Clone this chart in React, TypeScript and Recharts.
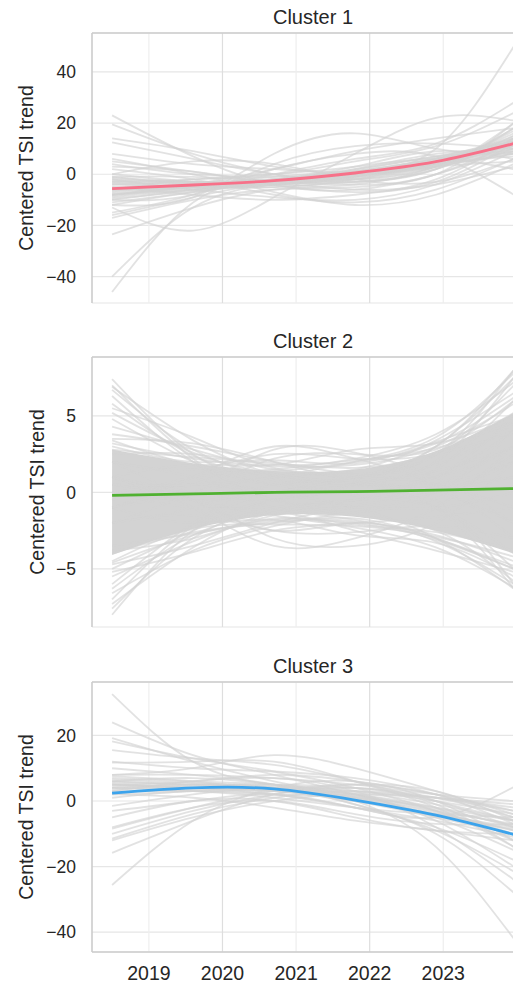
import React from 'react';
import { ComposedChart, Line, Area, XAxis, YAxis, CartesianGrid, ReferenceLine } from 'recharts';

// sample times (decimal years) shared by every curve
const T = [2018.5, 2019.6, 2020.7, 2021.8, 2022.9, 2023.96];
const YEAR_TICKS = [2019, 2020, 2021, 2022, 2023];
const EVEN_YEARS = [2020, 2022];
const ODD_YEARS = [2019, 2021, 2023];
const X_DOMAIN: [number, number] = [2018.227, 2024.233];

const cluster1Mean = [-5.6, -4.2, -2.5, 0.5, 4.9, 12];
const cluster1Lines = [
  [23, 7, -4, -6, 0, 10],
  [19.5, 8, 0, -3, 2, 14],
  [14, 9, 3, 0, 4, 16],
  [12.5, 6, 0, -2, 3, 18],
  [8, 4, 2, 1, 5, 12],
  [5, 1, -3, -3, 2, 20],
  [0, 5, 4, -2, -3, 6],
  [-12, -9, 8, 16, 10, 8],
  [-13, -22, -9, 8, 22, 21],
  [-46, -11, -1, 1, 10, 50],
  [-40, -13, -4, -2, 3, 15],
  [-23.5, -13, -6, -4, 3, 17],
  [-17, -10, -6, -5, 0, 13],
  [-16, -9, -4, -6, -4, 3],
  [0, -3, -4, -1, 4, 10],
  [-1, -4, -5, -2, 5, 14],
  [-2, -3, -2, 1, 6, 11],
  [-3, -4, -3, 0, 4, 9],
  [-4, -3, -2, 2, 7, 13],
  [-5, -4, -3, -1, 3, 8],
  [-6, -5, -3, 1, 6, 12],
  [-7, -5, -4, 0, 5, 15],
  [-8, -6, -3, 2, 8, 10],
  [-9, -6, -4, -1, 4, 7],
  [-10, -6, -2, 1, 5, 11],
  [-11, -7, -3, 0, 6, 13],
  [-12, -7, -4, -2, 3, 9],
  [-6, -2, -1, 0, 3, 5],
  [-4, -5, -5, -3, 2, 18],
  [-3, -2, 0, 3, 6, 2],
  [-8, -5, -2, 3, 9, 6],
  [2, -2, -8, -11, -6, 6],
  [-2, -6, -9, -10, -4, 9],
  [6, 0, -7, -12, -8, 4],
  [-5, -8, -10, -8, -2, 14],
  [-10, -8, 4, 11, 12, 10],
  [-8, -4, 2, 9, 14, 18],
  [4, 0, 0, 5, 11, 24],
  [-6, -5, 0, 6, 12, 28],
  [-15, -8, 2, 8, 7, -8],
  [-1, -1, -3, -4, 0, 20],
  [3, 1, -4, -7, -3, 12],
  [-2.5, -3.5, -3.5, -1.5, 3.5, 11],
  [-5.5, -4.5, -2.5, 0.5, 5.5, 13],
  [-7.5, -5.5, -3.5, -0.5, 4.5, 10],
  [-9.5, -6.5, -3, 0, 5, 12],
  [-3.5, -4.5, -3, 1, 6.5, 14],
  [-6.5, -4, -2, 1.5, 7, 9],
  [-8.5, -5, -2.5, -0.5, 3.5, 8],
  [-1.5, -3, -3.5, -0.5, 4.5, 12.5],
];

const cluster2Mean = [-0.2, -0.1, 0, 0.05, 0.15, 0.25];
const cluster2Low = [-4.1, -2.4, -1.5, -1.6, -2.5, -4.0];
const cluster2High = [2.8, 1.9, 1.4, 1.5, 2.7, 5.2];
const cluster2Lines = [
  [7.4, 2.5, 0.5, 0, 1, 4],
  [7.0, 2.2, -0.5, -0.5, 1.5, 6],
  [6.7, 2.8, 1, 0.5, 0, -2],
  [6.3, 2.0, 0, 0.5, 2, 7.5],
  [5.8, 2.4, 0.8, -0.2, -1, -4],
  [5.2, 2.6, 1.2, 0.6, 0.5, 2],
  [4.8, 2.0, 0.5, 1, 2.5, 8],
  [4.3, 2.8, 1.5, 1, 1, 3],
  [3.8, 3.0, 2.0, 1.2, 0.5, -1],
  [3.5, 3.2, 2.0, 0.8, 0.5, 1],
  [-8.0, -2.5, -0.5, 0, -1, -5],
  [-7.6, -3, -1, -0.5, 0.5, 3],
  [-7.0, -2.2, 0, 0.5, -0.5, -6],
  [-6.3, -2.8, -1.2, -0.5, 0, 2],
  [-6.0, -2.0, 0.5, 0.5, -1, -6.3],
  [-5.5, -3.2, -1.5, -1, -1, 0],
  [-5.0, -2.5, -0.5, 0, 1, 5],
  [-4.7, -3.5, -2.0, -1, 0, 4],
  [-1, 1, 3.0, 2.2, 0.5, -3],
  [0.5, 0.5, 2.8, 2.6, 1, -2],
  [2, 1.5, 2.5, 2.2, 2.5, 4],
  [-2, 0, 2.2, 2.5, 2.8, 6],
  [1, 1.8, 1.8, 2.8, 3.2, 5],
  [1, -1, -3.5, -3.0, -1, 3],
  [0, -0.5, -3.0, -3.5, -2, 2],
  [-2, -1.5, -2.5, -2.6, -2.2, -3],
  [2, -0.5, -2.5, -2.0, -3.0, -5],
  [-1, -2, -1.8, -2.8, -3.3, -5.5],
  [0, -0.5, 0, 1, 3, 8.0],
  [-2, -1, 0.5, 1, 2.5, 7.0],
  [1, 0, -0.5, 0.5, 3, 7.5],
  [-1, 0, 1, 1.5, 3.4, 6.5],
  [0, 0.5, 0, -1, -3, -6.3],
  [2, 1, -0.5, -1.5, -2.5, -5.8],
  [-1, 0, -1, -1.8, -3.2, -6.0],
  [3.2, 2.2, 1.7, 1.8, 3.0, 5.8],
  [2.8, 2.3, 1.9, 1.6, 2.6, 5.2],
  [3.4, 1.8, 1.4, 2.0, 3.2, 6.2],
  [2.5, 2.5, 1.8, 2.1, 2.9, 4.6],
  [3.0, 2.0, 2.1, 1.9, 3.3, 5.0],
  [-4.6, -2.8, -1.8, -1.9, -2.8, -4.5],
  [-4.0, -2.6, -2.0, -1.7, -3.0, -4.8],
  [-3.8, -3.0, -1.7, -2.1, -2.6, -3.8],
  [-4.5, -2.4, -2.1, -2.2, -2.9, -4.2],
  [-3.5, -2.7, -1.9, -2.0, -3.1, -5.0],
  [6.9, 3.4, 1.2, 0.8, 1.4, 3],
  [5.5, 3.6, 1.6, 1.2, 1.8, 4.5],
  [-7.3, -3.6, -1.3, -0.8, 0, 1],
  [-6.6, -3.8, -2.2, -1.3, -0.4, 2.5],
  [-5.2, -3.9, -2.5, -2, -1.6, -1],
  [0.5, 0.5, 1, 2, 3.6, 7.8],
  [-0.5, 1, 1.5, 2.2, 3.8, 7.2],
  [1, -0.5, -1.5, -2.3, -3.6, -6.2],
  [0, -1, -1.2, -2.5, -3.8, -5.2],
];

const cluster3Mean = [2.4, 4.0, 3.7, 0.3, -4.3, -10.2];
const cluster3Lines = [
  [32.6, 12, 5, 2, -6, -20],
  [24, 14, 8, 2, -5, -15],
  [19.2, 12, 6, 1, -4, -8],
  [18.2, 13, 9, 4, -3, -12],
  [15.5, 13, 11, 6, 0, -6],
  [11.7, 12, 12, 6, -2, -14],
  [8, 10, 14, 10, 3, -4],
  [5, 6, 8, 6, 2, -3],
  [6, 5, 4, 2, -2, -8],
  [4, 4, 3, 0, -4, -9],
  [3, 3, 2, 1, -2, -6],
  [7, 6, 5, 3, 1, -2],
  [2, 3, 4, 2, -3, -10],
  [5, 4, 2, -2, -6, -11],
  [1, 3, 2, -2, -5, 4.3],
  [-1.5, 2, 4, 3, 0, -4],
  [-8.4, -2, 3, 5, 2, -5],
  [-10, -3, 2, 4, 0, -8],
  [-11.5, -4, 1, 3, 1, -3],
  [-12, -5, 0, 2, 1, -1],
  [-15.8, -6, 2, 5, 3, -6],
  [-25.6, -6, 4, 6, 0, -12],
  [6, 7, 5, 0, -14, -42],
  [4, 5, 4, -1, -10, -28],
  [3, 6, 7, 3, -8, -24],
  [10, 8, 5, -1, -9, -21.5],
  [-3, 0, 2, -2, -8, -18],
  [2, 1, -2, -6, -9, -12],
  [-5, 0, 0, -5, -9, -10],
  [-8, -2, 0, -4, -7, -7],
  [5, 4, 4, 4, 1, -5],
  [8, 8, 7, 5, 2, 0],
  [12, 10, 9, 7, 2, -7],
  [6, 5, 5, 4, -1, -14],
  [4, 3, 1, -2, -4, -5],
  [4.5, 5, 4.5, 1.5, -3, -7],
  [6.5, 5.5, 4, 1, -3.5, -9],
  [3.5, 4.5, 3.5, 0.5, -4.5, -8.5],
  [5.5, 4, 3, 0, -5, -10],
  [2.5, 3.5, 3, 1.5, -2.5, -7.5],
  [7.5, 6, 3.5, 2.5, -1, -6],
];

const FONT = '"Liberation Sans", Arial, sans-serif';
const TEXT = '#262626';
const SPINE = '#cccccc';

const fmt = (v: number) => (v < 0 ? `\u2212${Math.abs(v)}` : `${v}`);

const gridAt = (years: number[]) => (props: any) => {
  const { xAxis, offset } = props;
  return years.map((y) =>
    xAxis && typeof xAxis.scale === 'function'
      ? xAxis.scale(y)
      : offset.left + ((y - X_DOMAIN[0]) / (X_DOMAIN[1] - X_DOMAIN[0])) * offset.width
  );
};

interface PanelProps {
  title: string;
  top: number;
  mean: number[];
  lines: number[][];
  color: string;
  yDomain: [number, number];
  yTicks: number[];
  labelX: number;
  low?: number[];
  high?: number[];
  showX?: boolean;
}

const Panel: React.FC<PanelProps> = ({ title, top, mean, lines, color, yDomain, yTicks, labelX, low, high, showX }) => {
  const rows = T.map((t, i) => {
    const row: { [key: string]: any } = { t, mean: mean[i] };
    if (low && high) row.band = [low[i], high[i]];
    lines.forEach((l, j) => {
      row[`s${j}`] = l[i];
    });
    return row;
  });
  const height = showX ? 339 : 310;

  return (
    <div style={{ position: 'absolute', left: 0, top, width: 536, height }}>
      <div
        style={{
          position: 'absolute', left: 92, width: 442, top: 7, textAlign: 'center',
          fontFamily: FONT, fontSize: 20, lineHeight: '20px', color: TEXT,
        }}
      >
        {title}
      </div>
      <ComposedChart width={536} height={height} data={rows} margin={{ top: 33, right: 2, left: 0, bottom: showX ? 0 : 7 }}>
        <CartesianGrid vertical={false} stroke="#e6e6e6" strokeWidth={1.2} />
        <CartesianGrid horizontal={false} stroke="#eeeeee" strokeWidth={1.2} verticalCoordinatesGenerator={gridAt(ODD_YEARS)} />
        <CartesianGrid horizontal={false} stroke="#dedede" strokeWidth={1.2} verticalCoordinatesGenerator={gridAt(EVEN_YEARS)} />
        <XAxis
          dataKey="t"
          type="number"
          domain={X_DOMAIN}
          allowDataOverflow
          ticks={YEAR_TICKS}
          height={showX ? 36 : 0}
          tick={showX ? { fontSize: 19.5, fill: TEXT, fontFamily: FONT } : false}
          tickLine={false}
          tickSize={0}
          tickMargin={14}
          axisLine={{ stroke: SPINE, strokeWidth: 1.6 }}
        />
        <YAxis
          type="number"
          domain={yDomain}
          allowDataOverflow
          ticks={yTicks}
          width={92}
          tickFormatter={fmt}
          tick={{ fontSize: 17.5, fill: TEXT, fontFamily: FONT }}
          tickLine={false}
          tickSize={0}
          tickMargin={16}
          axisLine={{ stroke: SPINE, strokeWidth: 1.6 }}
          label={{
            content: (p: any) => {
              const vb = p.viewBox || {};
              const cy = vb.y !== undefined ? vb.y + vb.height / 2 : 168;
              return (
                <text
                  x={labelX}
                  y={cy}
                  transform={`rotate(-90, ${labelX}, ${cy})`}
                  textAnchor="middle"
                  dominantBaseline="central"
                  fontSize={19.5}
                  fontFamily={FONT}
                  fill={TEXT}
                >
                  Centered TSI trend
                </text>
              );
            },
          }}
        />
        {low && high && (
          <Area dataKey="band" type="natural" stroke="none" fill="#d3d3d3" fillOpacity={1} isAnimationActive={false} />
        )}
        {lines.map((_, j) => (
          <Line
            key={j}
            dataKey={`s${j}`}
            type="natural"
            stroke="#d3d3d3"
            strokeOpacity={0.65}
            strokeWidth={1.8}
            dot={false}
            activeDot={false}
            isAnimationActive={false}
          />
        ))}
        <Line dataKey="mean" type="natural" stroke={color} strokeWidth={2.8} dot={false} activeDot={false} isAnimationActive={false} />
        {/* top spine */}
        <ReferenceLine y={yDomain[1]} stroke={SPINE} strokeWidth={1.6} ifOverflow="visible" />
      </ComposedChart>
    </div>
  );
};

export default function App() {
  return (
    <div style={{ position: 'absolute', left: 0, top: 0, width: 513, height: 988, overflow: 'hidden', background: '#ffffff' }}>
      <Panel
        title="Cluster 1"
        top={0}
        mean={cluster1Mean}
        lines={cluster1Lines}
        color="#f77189"
        yDomain={[-50.3, 55.2]}
        yTicks={[-40, -20, 0, 20, 40]}
        labelX={26}
      />
      <Panel
        title="Cluster 2"
        top={324}
        mean={cluster2Mean}
        lines={cluster2Lines}
        low={cluster2Low}
        high={cluster2High}
        color="#50b131"
        yDomain={[-8.8, 8.85]}
        yTicks={[-5, 0, 5]}
        labelX={37}
      />
      <Panel
        title="Cluster 3"
        top={649}
        mean={cluster3Mean}
        lines={cluster3Lines}
        color="#3ba3ec"
        yDomain={[-46.05, 36.3]}
        yTicks={[-40, -20, 0, 20]}
        labelX={26}
        showX
      />
    </div>
  );
}
